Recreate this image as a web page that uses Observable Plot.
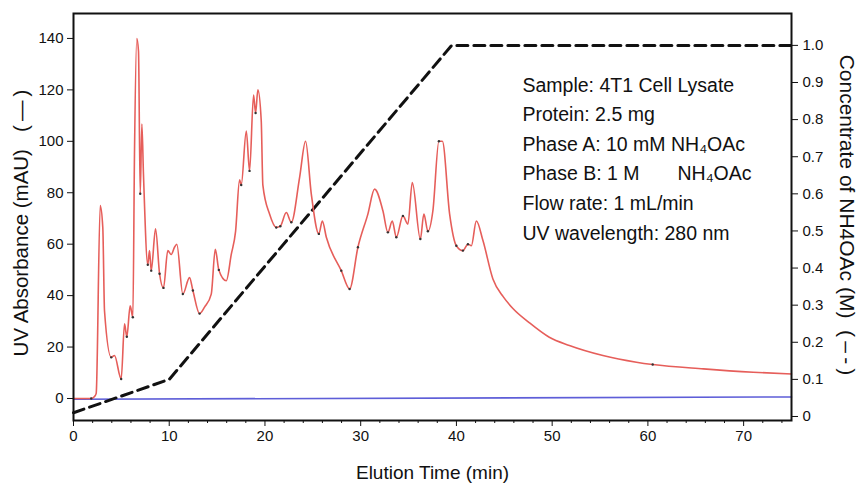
<!DOCTYPE html>
<html>
<head>
<meta charset="utf-8">
<script src="https://cdn.jsdelivr.net/npm/d3@7"></script>
<script src="https://cdn.jsdelivr.net/npm/@observablehq/plot@0.6"></script>
<style>
  html, body { margin: 0; padding: 0; background: #fff; }
  svg { font-family: "Liberation Sans", Arial, sans-serif; }
</style>
</head>
<body>
<div id="chart"></div>
<script>
// UV absorbance trace (mAU) vs elution time (min)
const uvTime = [0,1.85,2.2,2.37,2.79,3.06,3.24,3.94,4.28,4.98,
  5.33,5.57,5.92,6.2,6.37,6.61,6.79,6.97,7.14,7.31,
  7.76,7.94,8.12,8.57,8.99,9.4,9.85,10.21,10.55,10.79,
  11.42,12.12,12.47,13.17,13.69,14.39,14.81,15.18,15.96,16.48,
  16.93,17.35,17.52,18.05,18.39,18.81,19.02,19.26,19.61,19.78,
  20.48,21.18,21.6,22.23,22.75,23.62,24.24,24.84,25.63,25.99,
  26.41,27.97,28.84,29.71,30.75,31.45,32.32,32.84,33.3,33.72,
  34.41,34.93,35.39,36.23,36.6,37.02,37.54,38.17,38.53,39.29,
  39.99,40.68,41.2,41.56,42.08,42.77,43.81,44.9,45.9,47.6,
  49.7,51.8,55.3,58.8,60.5,65.8,71,75];
const uvValue = [0,0,0.8,2,75,66.5,34,16,16.7,7.6,
  29,24,36,31.6,95,140,135,79.6,106.7,87,
  52,57.5,49.7,66,48.5,43,57.5,56,58.8,60,
  40.6,47,42,33,35.5,40.6,58,50,45.8,56,
  65,85,83,104,88.5,118,111,120,108,83,
  71.7,66.5,67,72.3,68.5,86,100,79.5,64,69,
  62.7,49.7,42.6,58.8,71.7,81.4,73,64.6,69,62.7,
  71,67.8,84,62,71.7,65,73,100,100,71.7,
  59.4,57.5,60,59.4,69,61.4,46.5,39.5,35,29.5,
  23.8,20.6,16.7,14.1,13.2,11.5,10.2,9.5];

// small dark peak-marker ticks on the trace
const markTime = [1.85,3.94,4.98,5.57,6.2,6.97,7.76,8.12,8.99,9.4,11.42,12.47,13.17,15.18,17.52,18.39,19.02,21.18,21.6,22.75,25.63,27.97,28.84,29.71,32.84,33.72,34.41,36.23,37.02,38.17,39.99,40.68,41.2,60.5];
const markValue = [0,16,7.6,24,31.6,79.6,52,49.7,48.5,43,40.6,42,33,50,83,88.5,111,66.5,67,68.5,64,49.7,42.6,58.8,64.6,62.7,71,62,65,100,59.4,57.5,60,13.2];

// baseline (blue) trace
const baseTime = [0, 75];
const baseValue = [-0.3, 0.6];

// NH4OAc gradient (M)
const gradTime = [0, 10, 39.5, 75];
const gradConc = [0.01, 0.1, 1.0, 1.0];

// tick labels
const xTicks = [0,10,20,30,40,50,60,70];
const xMinorTicks = [2,4,6,8,12,14,16,18,22,24,26,28,32,34,36,38,42,44,46,48,52,54,56,58,62,64,66,68,72,74];
const yTicks = [0,20,40,60,80,100,120,140];
const concTicks = [0,0.1,0.2,0.3,0.4,0.5,0.6,0.7,0.8,0.9,1.0];

const annotation = [
  "Sample: 4T1 Cell Lysate",
  "Protein: 2.5 mg",
  "Phase A: 10 mM NH\u2084OAc",
  "Phase B: 1 M\u00a0\u00a0\u00a0\u00a0\u00a0\u00a0\u00a0NH\u2084OAc",
  "Flow rate: 1 mL/min",
  "UV wavelength: 280 nm"
];

// map concentration onto the left (mAU) scale for the secondary axis
const c2y = c => -7.0 + 144.3 * c;

const uv = uvTime.map((t, i) => ({t, v: uvValue[i]}));
const marks = markTime.map((t, i) => ({t, v: markValue[i]}));
const base = baseTime.map((t, i) => ({t, v: baseValue[i]}));
const grad = gradTime.map((t, i) => ({t, v: c2y(gradConc[i])}));

const chart = Plot.plot({
  width: 863,
  height: 486,
  marginLeft: 73,
  marginRight: 72,
  marginTop: 13,
  marginBottom: 66,
  style: {fontFamily: '"Liberation Sans", Arial, sans-serif', background: "#fff", color: "#111"},
  x: {domain: [0, 75]},
  y: {domain: [-8.56, 149.7]},
  marks: [
    Plot.line(base, {x: "t", y: "v", stroke: "#5e5ed8", strokeWidth: 1.6}),
    Plot.line(grad, {x: "t", y: "v", stroke: "#111", strokeWidth: 3, strokeDasharray: "11,6"}),
    Plot.line(uv, {x: "t", y: "v", stroke: "#e65e5a", strokeWidth: 1.6, curve: "monotone-x"}),
    Plot.dot(marks, {x: "t", y: "v", r: 1.2, fill: "#333", stroke: "none"}),
    Plot.frame({stroke: "#111", strokeWidth: 2}),
    Plot.axisY(yTicks, {anchor: "left", tickSize: 6, tickPadding: 4, fontSize: 15, label: null, stroke: "#111"}),
    Plot.axisY(concTicks.map(c2y), {anchor: "right", tickSize: 6, tickPadding: 5, fontSize: 15, label: null,
      tickFormat: y => { const c = Math.round((y + 7.0) / 144.3 * 10) / 10; return c === 0 ? "0" : c.toFixed(1); }}),
    Plot.axisX(xTicks, {anchor: "bottom", tickSize: 6, tickPadding: 4, fontSize: 15, label: null}),
    Plot.axisX(xMinorTicks, {anchor: "bottom", tickSize: 3, text: null, label: null}),
    Plot.text(["UV Absorbance (mAU)\u00a0\u00a0\u00a0(\u2009\u2014\u2009)"], {frameAnchor: "left", textAnchor: "middle", lineAnchor: "middle", rotate: -90, dx: -52, dy: 6, fontSize: 20.5, fill: "#111"}),
    Plot.text(["Concentrate of NH4OAc (M)\u00a0\u00a0(\u2009\u2013\u2009-\u2009)"], {frameAnchor: "right", textAnchor: "middle", lineAnchor: "middle", rotate: 90, dx: 55, dy: -2, fontSize: 21, fill: "#111"}),
    Plot.text(["Elution Time (min)"], {frameAnchor: "bottom", textAnchor: "middle", lineAnchor: "middle", dy: 52, fontSize: 19, fill: "#111"}),
    Plot.text([annotation.join("\n")], {frameAnchor: "top-left", dx: 449, dy: 57, textAnchor: "start", lineAnchor: "top", lineHeight: 1.52, fontSize: 19.5, fill: "#111"})
  ]
});
document.getElementById("chart").appendChild(chart);
</script>
</body>
</html>
